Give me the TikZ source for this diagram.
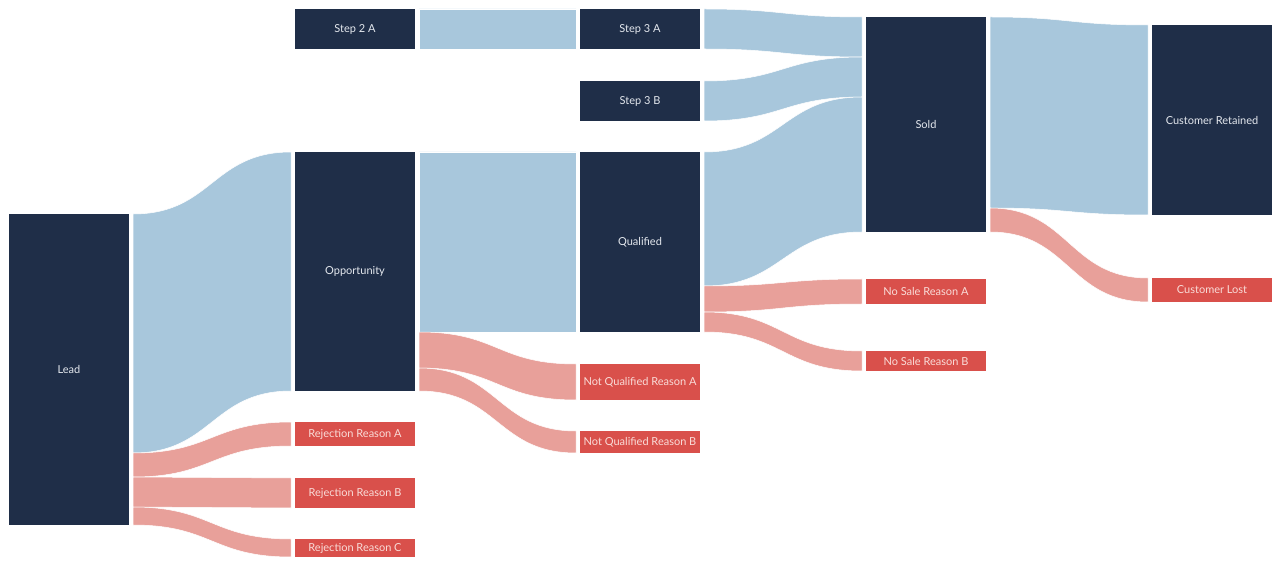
\documentclass[tikz,border=0pt]{standalone}
\usepackage{fontspec}
\newfontfamily\tabfont{Lato}
\usetikzlibrary{calc}

\definecolor{navy}{HTML}{1F2E48}
\definecolor{navytext}{HTML}{E4E8EE}
\definecolor{rednode}{HTML}{D9504B}
\definecolor{redtext}{HTML}{F9DCD8}
\definecolor{bluefl}{HTML}{A8C7DC}
\definecolor{redfl}{HTML}{E8A09A}

% band from one node to the next: colour, source, y top, y bottom, target, y top, y bottom
\newcommand{\flow}[7]{%
  \fill[#1, draw=white, line width=0.5pt] (#2.east |- 0,#3) .. controls +(79,0) and +(-79,0) .. (#5.west |- 0,#6)
    -- (#5.west |- 0,#7) .. controls +(-79,0) and +(79,0) .. (#2.east |- 0,#4) -- cycle;}

\begin{document}
\begin{tikzpicture}[x=1pt, y=-1pt]
            \tikzset{
                stage/.style={
                        rectangle, fill=navy, text=navytext, minimum width=120pt,
                        inner sep=0pt, outer sep=4pt, font=\tabfont\fontsize{11}{13}\selectfont
                    },
                drop/.style={
                        stage, fill=rednode, text=redtext
                    }
            }
            \useasboundingbox (0,0) rectangle (1280,569);

            % Column 1
            \node[stage, minimum height=311pt] (lead) at (69,369.5) {Lead};

            % Column 2
            \node[stage, minimum height=40pt] (step2a) at (355,29) {Step 2 A};
            \node[stage, minimum height=239pt] (opp) at (355,271.5) {Opportunity};
            \node[drop, minimum height=24pt] (rejA) at (355,434) {Rejection Reason A};
            \node[drop, minimum height=30pt] (rejB) at (355,493) {Rejection Reason B};
            \node[drop, minimum height=18pt] (rejC) at (355,548) {Rejection Reason C};

            % Column 3
            \node[stage, minimum height=40pt] (step3a) at (640,29) {Step 3 A};
            \node[stage, minimum height=40pt] (step3b) at (640,101) {Step 3 B};
            \node[stage, minimum height=180pt] (qual) at (640,242) {Qualified};
            \node[drop, minimum height=36pt] (nqA) at (640,382) {Not Qualified Reason A};
            \node[drop, minimum height=22pt] (nqB) at (640,442) {Not Qualified Reason B};

            % Column 4
            \node[stage, minimum height=215pt] (sold) at (926,124.5) {Sold};
            \node[drop, minimum height=25pt] (noSaleA) at (926,291.5) {No Sale Reason A};
            \node[drop, minimum height=20pt] (noSaleB) at (926,361) {No Sale Reason B};

            % Column 5
            \node[stage, minimum height=190pt] (retained) at (1212,120) {Customer Retained};
            \node[drop, minimum height=24pt] (lost) at (1212,290) {Customer Lost};

            % Flows out of Lead
            \flow{bluefl}{lead}{214}{453}{opp}{152}{391}
            \flow{redfl}{lead}{453}{477}{rejA}{422}{446}
            \flow{redfl}{lead}{477}{507}{rejB}{478}{508}
            \flow{redfl}{lead}{507}{525}{rejC}{539}{557}

            % Flows out of column 2
            \flow{bluefl}{step2a}{9}{49}{step3a}{9}{49}
            \flow{bluefl}{opp}{152}{332}{qual}{152}{332}
            \flow{redfl}{opp}{332}{368}{nqA}{364}{400}
            \flow{redfl}{opp}{368}{391}{nqB}{431}{453}

            % Flows out of column 3
            \flow{bluefl}{step3a}{9}{49}{sold}{17}{57}
            \flow{bluefl}{step3b}{81}{121}{sold}{57}{97}
            \flow{bluefl}{qual}{152}{286}{sold}{97}{232}
            \flow{redfl}{qual}{286}{312}{noSaleA}{279}{304}
            \flow{redfl}{qual}{312}{332}{noSaleB}{351}{371}

            % Flows out of Sold
            \flow{bluefl}{sold}{17}{208}{retained}{25}{215}
            \flow{redfl}{sold}{208}{232}{lost}{278}{302}
        \end{tikzpicture}
\end{document}
